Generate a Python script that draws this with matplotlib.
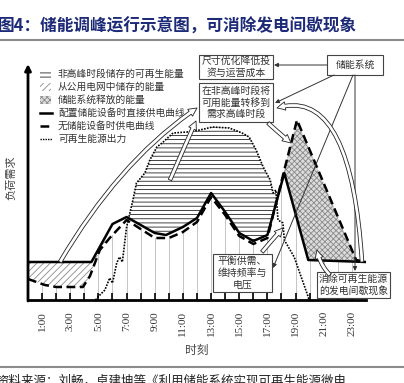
import numpy as np
import matplotlib
matplotlib.use('Agg')
import matplotlib.pyplot as plt
from matplotlib.patches import Rectangle, FancyArrowPatch
from matplotlib.path import Path

plt.rcParams['font.family'] = ['Noto Sans CJK SC', 'DejaVu Sans']
plt.rcParams['hatch.linewidth'] = 0.6

# 曲线数据 (小时, 负荷)
hours_solid = [0, 4.5, 6, 7, 9, 9.8, 11, 12, 13, 14, 15, 16, 17, 18.2, 19.9, 24]
solid = [38, 38, 76, 83, 67, 65, 73, 82, 107, 88, 67, 59, 65, 127, 40, 38]

hours_dash = [0, 1.2, 2, 3.9, 4.4, 5.1, 5.8, 7, 9, 10, 11, 12, 13, 14, 15, 16, 17, 18.2, 19.1, 23.3, 24]
dash = [21, 15, 13, 13, 24, 50, 62, 80, 62, 62, 68, 78, 103, 85, 64, 56, 62, 130, 180, 40, 38]

hours_ren = [4.8, 4.96, 5.46, 5.8, 6.0, 6.3, 6.5, 6.7, 7.0, 7.45, 7.7, 8.3, 8.65, 9.15, 9.6,
             10.3, 11.3, 12.2, 13.1, 14.3, 15.2, 15.7, 16.2, 16.7, 17.2, 17.4, 17.6, 17.75,
             18.1, 18.2, 18.9, 19.3, 19.9, 19.95]
ren = [0, 3, 10, 22, 17, 37, 43, 38, 73, 100, 117, 127, 140, 153, 158,
       167, 168, 170, 173, 172, 167, 163, 150, 133, 120, 107, 110, 80,
       77, 60, 43, 27, 3, 0]

tick_hours = list(range(1, 24))
tick_labels = ['%d:00' % h if h % 2 == 1 else '' for h in tick_hours]

legend_labels = ['非高峰时段储存的可再生能量', '从公用电网中储存的能量', '储能系统释放的能量',
                 '配置储能设备时直接供电曲线', '无储能设备时供电曲线', '可再生能源出力']

W, H = 404, 383
fig = plt.figure(figsize=(W / 100, H / 100), dpi=100)
fig.patch.set_facecolor('white')

# 主坐标轴：x 0-24 小时 对应像素 28-366，y 0-260 对应像素 300-40
ax = fig.add_axes([28 / W, (H - 300) / H, 338 / W, 260 / H])
ax.set_xlim(0, 24)
ax.set_ylim(0, 260)
ax.set_facecolor('none')
for s in ['top', 'right', 'left']:
    ax.spines[s].set_visible(False)
ax.spines['bottom'].set_linewidth(2)
ax.set_yticks([])
ax.set_xticks(tick_hours)
ax.set_xticklabels(tick_labels, rotation=90, family='Liberation Serif', fontsize=8, color='#333333')
ax.tick_params(axis='x', direction='in', length=5, width=1.2, pad=8)

xf = np.linspace(0, 24, 4801)
s_f = np.interp(xf, hours_solid, solid)
d_f = np.interp(xf, hours_dash, dash)
r_f = np.interp(xf, hours_ren, ren)

# 每小时竖线
for h in tick_hours:
    top = min(np.interp(h, hours_solid, solid), np.interp(h, hours_dash, dash))
    ax.plot([h, h], [0, top], color='#c4c4c4', lw=0.7, zorder=1)

ax.fill_between(xf, d_f, s_f, where=(d_f < s_f) & (xf < 5.5), interpolate=True,
                facecolor='white', edgecolor='#8a8a8a', hatch='/////', lw=0, zorder=2)
ax.fill_between(xf, s_f, r_f, where=r_f > s_f, interpolate=True,
                facecolor='white', edgecolor='#222222', hatch='----', lw=0, zorder=2)
ax.fill_between(xf, s_f, d_f, where=(d_f > s_f) & (xf > 17.5), interpolate=True,
                facecolor='#dcdcdc', edgecolor='#8a8a8a', hatch='xxxxxx', lw=0, zorder=2)

ax.plot(hours_ren, ren, color='black', lw=1.2, ls=(0, (1, 0.8)), zorder=3)
ax.plot(hours_dash, dash, color='black', lw=1.8, ls=(0, (3.5, 1.8)), zorder=3)
ax.plot(hours_solid, solid, color='black', lw=1.8, zorder=4)

# 叠加层：像素坐标
ov = fig.add_axes([0, 0, 1, 1])
ov.set_xlim(0, W)
ov.set_ylim(H, 0)
ov.axis('off')
ov.set_facecolor('none')

ov.text(-2, 26, '图4：储能调峰运行示意图，可消除发电间歇现象', fontsize=12, fontweight='bold',
        color='#1c2a78', va='center', ha='left')
ov.plot([0, W], [40, 40], color='#8c8c8c', lw=1.5)
ov.plot([0, W], [367, 367], color='#8c8c8c', lw=1.5)
ov.text(-4, 381, '资料来源：刘畅，卓建坤等《利用储能系统实现可再生能源微电', fontsize=9,
        color='#222222', va='center', ha='left')

# y 轴箭头
ov.annotate('', xy=(28, 64), xytext=(28, 301),
            arrowprops=dict(arrowstyle='-|>', lw=2, color='black', mutation_scale=9,
                            shrinkA=0, shrinkB=0))
ov.text(11, 178, '负荷需求', rotation=90, fontsize=8, color='#444444', ha='center', va='center')
ov.text(197, 350, '时刻', fontsize=8.5, color='#444444', ha='center', va='center')

# 图例
rows = [74, 87, 100, 113, 126, 139]
ov.add_patch(Rectangle((40, rows[0] - 4), 11, 8, facecolor='white', edgecolor='#222222',
                       hatch='----', lw=0))
ov.add_patch(Rectangle((40, rows[1] - 4), 11, 8, facecolor='white', edgecolor='#8a8a8a',
                       hatch='/////', lw=0))
ov.add_patch(Rectangle((40, rows[2] - 4), 11, 8, facecolor='#dcdcdc', edgecolor='#8a8a8a',
                       hatch='xxxxxx', lw=0))
ov.plot([40, 52], [rows[3], rows[3]], color='black', lw=1.8)
ov.plot([40, 52], [rows[4], rows[4]], color='black', lw=1.8, ls=(0, (3.5, 1.8)))
ov.plot([40, 52], [rows[5], rows[5]], color='black', lw=1.0, ls=(0, (1, 0.8)))
for y, lab in zip(rows, legend_labels):
    ov.text(58, y, lab, fontsize=7, color='#333333', va='center', ha='left')


def box(x0, y0, x1, y1, txt):
    ov.add_patch(Rectangle((x0, y0), x1 - x0, y1 - y0, facecolor='white',
                           edgecolor='#444444', lw=0.8, zorder=6))
    ov.text((x0 + x1) / 2, (y0 + y1) / 2, txt, fontsize=7.1, color='#333333',
            ha='center', va='center', linespacing=1.2, zorder=7)


box(199, 55, 273, 79, '尺寸优化降低投\n资与运营成本')
box(327, 55, 383, 75, '储能系统')
box(199, 83, 273, 122, '在非高峰时段将\n可用能量转移到\n需求高峰时段')
box(213, 254, 272, 292, '平衡供需、\n维持频率与\n电压')
box(317, 272, 390, 298, '消除可再生能源\n的发电间歇现象')


def thin(start, end):
    ov.annotate('', xy=end, xytext=start,
                arrowprops=dict(arrowstyle='-|>', lw=0.7, color='#333333', mutation_scale=6,
                                shrinkA=0, shrinkB=0), zorder=8)


thin((327, 65), (274, 65))
thin((334, 75), (275, 103))
thin((353, 75), (273, 268))
thin((355, 75), (355, 271))


def hollow(p0, c, p1, tw=2.6, hw=6, hl=6):
    path = Path([p0, c, p1], [Path.MOVETO, Path.CURVE3, Path.CURVE3])
    arr = FancyArrowPatch(path=path, arrowstyle='simple,head_length=%g,head_width=%g,tail_width=%g' % (hl, hw, tw),
                          facecolor='white', edgecolor='#222222', lw=0.6, mutation_scale=1, zorder=8)
    ov.add_patch(arr)


hollow((60, 262), (120, 160), (197, 108))
hollow((170, 180), (183, 150), (196, 121))
hollow((268, 123), (279, 133), (291, 143))
hollow((362, 262), (351, 85), (277, 108))
hollow((262, 252), (272, 240), (283, 228))
hollow((330, 275), (320, 265), (317, 250))

fig.savefig('out.png', dpi=100)
